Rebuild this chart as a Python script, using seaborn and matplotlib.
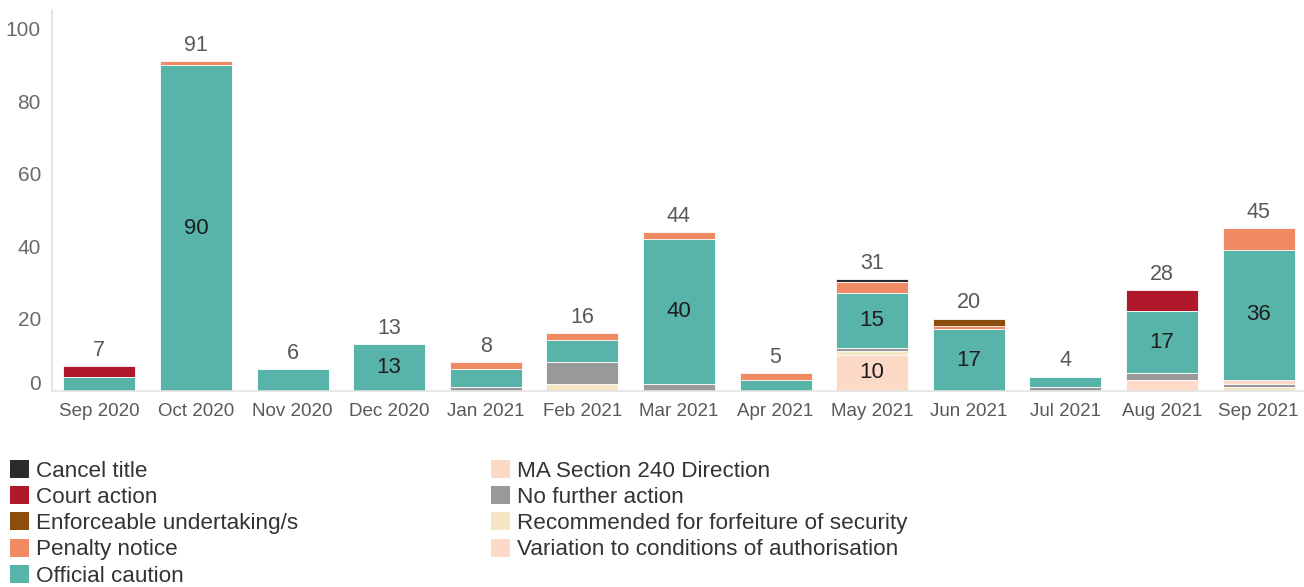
import matplotlib
matplotlib.use("Agg")
import matplotlib.pyplot as plt
from matplotlib.patches import Patch
from matplotlib.transforms import ScaledTranslation
import numpy as np
import seaborn as sns

# Monthly enforcement outcomes
months = ['Sep 2020', 'Oct 2020', 'Nov 2020', 'Dec 2020', 'Jan 2021', 'Feb 2021', 'Mar 2021',
          'Apr 2021', 'May 2021', 'Jun 2021', 'Jul 2021', 'Aug 2021', 'Sep 2021']
cancel_title = [0, 0, 0, 0, 0, 0, 0, 0, 1, 0, 0, 0, 0]
court_action = [3, 0, 0, 0, 0, 0, 0, 0, 0, 0, 0, 6, 0]
enforceable = [0, 0, 0, 0, 0, 0, 0, 0, 0, 2, 0, 0, 0]
penalty_notice = [0, 1, 0, 0, 2, 2, 2, 2, 3, 1, 0, 0, 6]
official_caution = [4, 90, 6, 13, 5, 6, 40, 3, 15, 17, 3, 17, 36]
ma_section_240 = [0, 0, 0, 0, 0, 0, 0, 0, 0, 0, 0, 0, 1]
no_further_action = [0, 0, 0, 0, 1, 6, 2, 0, 1, 0, 1, 2, 1]
recommended_forfeiture = [0, 0, 0, 0, 0, 2, 0, 0, 1, 0, 0, 0, 1]
variation_conditions = [0, 0, 0, 0, 0, 0, 0, 0, 10, 0, 0, 3, 0]

# legend order (top of stack first)
series = [
    ('Cancel title', cancel_title, '#2b2b2b'),
    ('Court action', court_action, '#b0182b'),
    ('Enforceable undertaking/s', enforceable, '#8b4e0c'),
    ('Penalty notice', penalty_notice, '#f08a62'),
    ('Official caution', official_caution, '#58b3a9'),
    ('MA Section 240 Direction', ma_section_240, '#fcd9c5'),
    ('No further action', no_further_action, '#999999'),
    ('Recommended for forfeiture of security', recommended_forfeiture, '#f6e7c4'),
    ('Variation to conditions of authorisation', variation_conditions, '#fcdac7'),
]

sns.set_style('white')
plt.rcParams['font.family'] = ['Liberation Sans', 'DejaVu Sans']

fig = plt.figure(figsize=(13.04, 5.87), dpi=100)
ax = fig.add_axes([52 / 1304, 196 / 587, 1 - 52 / 1304, 381 / 587])

values = np.array([s[1] for s in series], dtype=float)
# cumulative from bottom of stack up; draw tallest first so lower layers sit on top
stack_bottom_up = values[::-1]
cum = np.cumsum(stack_bottom_up, axis=0)[::-1]
totals = cum[0]

for (name, vals, color), heights in zip(series, cum):
    sns.barplot(x=months, y=heights, color=color, saturation=1, width=0.745,
                edgecolor='white', linewidth=0.6, ax=ax)

# labels inside big segments
bottoms = np.vstack([np.zeros(len(months)), np.cumsum(stack_bottom_up, axis=0)[:-1]])
for seg, bot in zip(stack_bottom_up, bottoms):
    for i, v in enumerate(seg):
        if v >= 10:
            ax.text(i, bot[i] + v / 2, f'{int(v)}', ha='center', va='center',
                    fontsize=16, color='#1e1e1e')

# totals above bars
for i, t in enumerate(totals):
    ax.text(i, t + 1.4, f'{int(t)}', ha='center', va='bottom', fontsize=15.5, color='#595959')

ax.set_ylim(0, 105.2)
ax.set_xlim(-0.49, 12.47)
ax.set_yticks([0, 20, 40, 60, 80, 100])
ax.set_xlabel('')
ax.set_ylabel('')
ax.tick_params(axis='y', length=5, width=1, color='#8c8c8c', labelsize=15, labelcolor='#6a6a6a', pad=3)
ax.tick_params(axis='x', length=0, labelsize=13.5, labelcolor='#595959', pad=9)
for side in ['top', 'right']:
    ax.spines[side].set_visible(False)
ax.spines['left'].set_color('#dedede')
ax.spines['bottom'].set_color('#e3e3e3')
ax.spines['left'].set_linewidth(1.2)
ax.spines['bottom'].set_linewidth(1.2)
ax.grid(False)

# the "0" label sits a little above its tick in the original
zero_lbl = ax.yaxis.get_major_ticks()[0].label1
zero_lbl.set_transform(zero_lbl.get_transform() + ScaledTranslation(0, 8 / 100, fig.dpi_scale_trans))

handles = [Patch(facecolor=c, edgecolor='none') for _, _, c in series]
labels = [n for n, _, _ in series]
fig.legend(handles, labels, ncol=2, loc='upper left', bbox_to_anchor=(0.0077, 0.2165),
           frameon=False, fontsize=16.2, handlelength=0.85, handleheight=0.85,
           handletextpad=0.32, columnspacing=8.55, labelspacing=0.2,
           borderpad=0, borderaxespad=0, labelcolor='#333333')

fig.savefig('out.png', dpi=100)
